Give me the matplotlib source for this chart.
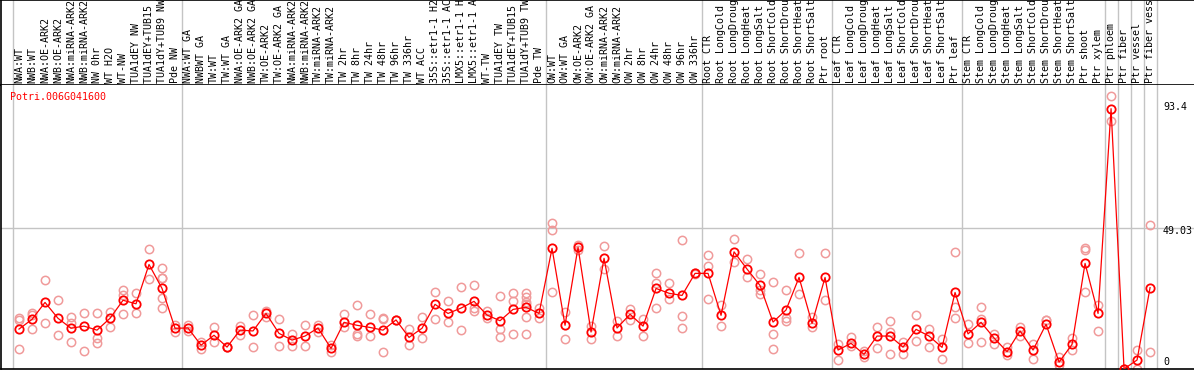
import matplotlib
matplotlib.use("Agg")
import matplotlib.pyplot as plt
import matplotlib.transforms as mtransforms
import numpy as np

# Data ------------------------------------------------------------------------

gene = "Potri.006G041600"

samples = [
    "NWA:WT", "NWB:WT", "NWA:OE-ARK2", "NWB:OE-ARK2", "NWA:miRNA-ARK2",
    "NWB:miRNA-ARK2", "NW 0hr", "WT H2O", "WT-NW", "TUA1dEY NW",
    "TUA1dEY+TUB15 NW", "TUA1dY+TUB9 NW", "Pde NW",
    "NWA:WT GA", "NWBWT GA", "TW:WT", "TW:WT GA", "NWA:OE-ARK2 GA",
    "NWB:OE-ARK2 GA", "TW:OE-ARK2", "TW:OE-ARK2 GA", "NWA:miRNA-ARK2",
    "NWB:miRNA-ARK2", "TW:miRNA-ARK2", "TW:miRNA-ARK2", "TW 2hr", "TW 8hr",
    "TW 24hr", "TW 48hr", "TW 96hr", "TW 336hr", "WT ACC", "35S::etr1-1 H2O",
    "35S::etr1-1 ACC", "LMX5::etr1-1 H2O", "LMX5::etr1-1 ACC", "WT-TW",
    "TUA1dEY TW", "TUA1dEY+TUB15 TW", "TUA1dY+TUB9 TW", "Pde TW",
    "OW:WT", "OW:WT GA", "OW:OE-ARK2", "OW:OE-ARK2 GA", "OW:miRNA-ARK2",
    "OW:miRNA-ARK2", "OW 2hr", "OW 8hr", "OW 24hr", "OW 48hr", "OW 96hr",
    "OW 336hr",
    "Root CTR", "Root LongCold", "Root LongDrought", "Root LongHeat",
    "Root LongSalt", "Root ShortCold", "Root ShortDrought", "Root ShortHeat",
    "Root ShortSalt", "Ptr root",
    "Leaf CTR", "Leaf LongCold", "Leaf LongDrought", "Leaf LongHeat",
    "Leaf LongSalt", "Leaf ShortCold", "Leaf ShortDrought", "Leaf ShortHeat",
    "Leaf ShortSalt", "Ptr leaf",
    "Stem CTR", "Stem LongCold", "Stem LongDrought", "Stem LongHeat",
    "Stem LongSalt", "Stem ShortCold", "Stem ShortDrought", "Stem ShortHeat",
    "Stem ShortSalt", "Ptr shoot", "Ptr xylem",
    "Ptr phloem", "Ptr fiber", "Ptr vessel", "Ptr fiber vessel",
]

group_sizes = [13, 28, 12, 10, 10, 11, 1, 1, 1, 1]

means = [
    11.5, 15.1, 21.4, 15.5, 11.8, 12.6, 11.1, 15.5, 22.2, 20.9, 35.5, 26.6, 11.8,
    11.9, 5.5, 9.2, 4.8, 11.1, 10.8, 17.3, 9.9, 7.4, 8.9, 11.9, 4.3, 14.0, 12.9,
    12.1, 11.1, 14.9, 8.4, 11.8, 20.7, 17.3, 19.3, 21.8, 16.7, 14.6, 18.8, 19.6,
    17.3,
    41.5, 12.9, 41.9, 10.4, 37.8, 11.9, 17.0, 12.6, 26.6, 24.8, 24.0, 32.2,
    32.2, 16.6, 40.2, 33.8, 27.7, 14.1, 18.6, 30.7, 13.6, 30.7,
    3.7, 6.2, 2.1, 8.9, 8.9, 4.8, 11.4, 8.9, 4.7, 25.1,
    9.7, 14.0, 8.2, 3.1, 10.8, 3.7, 13.3, -0.8, 5.8, 35.9, 17.3,
    93.4, -3.3, 0.0, 26.9,
]

replicates = [
    [15.5, 14.7, 4.0], [17.5, 16.7, 11.5], [29.6, 13.6], [22.3, 9.3],
    [16.0, 13.9, 6.7], [17.3, 3.3], [17.3, 8.1, 6.4], [17.9, 12.1],
    [26.0, 24.1, 17.0], [24.8, 17.3], [41.2, 30.1],
    [34.2, 30.6, 30.3, 22.9, 19.2], [13.0, 10.3],
    [13.0, 10.8], [6.8, 4.2], [12.1, 6.8], [4.8, 4.8], [12.6, 9.2], [16.6, 4.8],
    [18.3, 15.9], [15.1, 5.2], [9.7, 5.2], [12.9, 5.2], [13.1, 10.4],
    [5.6, 3.1], [17.0, 12.4], [20.3, 9.7, 8.9], [17.0, 8.9], [15.6, 15.1, 2.9],
    [14.9, 14.9], [11.4, 5.5], [15.9, 8.1], [25.1, 15.1], [21.8, 14.0],
    [27.0, 11.1], [27.9, 19.2, 18.3], [18.3, 15.5], [23.7, 11.4, 8.4],
    [24.8, 21.8, 9.7], [24.8, 23.5, 21.7, 20.8, 15.9, 9.5], [19.2, 15.7],
    [51.1, 48.2, 25.3], [17.9, 7.7], [42.7, 40.9], [12.6, 7.7], [42.3, 33.7],
    [14.5, 8.9], [18.9, 14.9], [15.2, 8.9], [32.3, 28.6, 19.2], [28.5, 22.5],
    [44.5, 16.3, 11.8], [32.4, 32.0],
    [39.0, 34.9, 22.5], [20.4, 12.6], [44.8, 36.3], [37.4, 30.9],
    [31.9, 26.0, 24.4], [28.9, 9.5, 4.1], [26.0, 15.5, 14.6], [39.6, 24.4],
    [15.9, 12.4], [39.6, 22.3],
    [5.9, 0.0], [8.4, 5.2], [3.5, 1.2], [12.4, 4.3], [14.5, 10.5, 2.1],
    [6.7, 2.1], [16.6, 7.1], [11.4, 4.7], [7.7, 0.3], [40.0, 19.6, 15.5],
    [13.4, 6.2], [19.6, 15.1, 6.6], [9.7, 5.9], [4.9, 1.9], [12.1, 9.0],
    [5.8, 0.3], [14.9, 14.9], [1.0, -1.9], [8.1, 3.7], [41.7, 40.7, 25.1],
    [20.4, 10.8],
    [98.06, 88.8], [-3.3, -3.3], [3.7, -3.3], [50.1, 3.1],
]

# Figure ----------------------------------------------------------------------

W, H = 1194, 370
fig = plt.figure(figsize=(W / 100, H / 100), dpi=100)
ax_lab = fig.add_axes([1 / W, 285 / H, 1193 / W, 85 / H])
ax = fig.add_axes([1 / W, 1 / H, 1193 / W, 284 / H])

n = len(samples)
x = np.arange(n)
xlim = (-1.385, 90.38)
top_val = max(max(r) for r in replicates)
half_val = top_val / 2
ylim = (-3.34, 102.2)

mono = "DejaVu Sans Mono"
fs = 7.2
red = "#ff0000"
pink = "#f09a9a"
grid = "#c4c4c4"

# group separators
bounds = np.concatenate([[0], np.cumsum(group_sizes)]) - 0.5
for b in bounds:
    ax.axvline(b, color=grid, lw=1.0, zorder=0)
    ax_lab.axvline(b, color=grid, lw=1.0, zorder=0)
ax.axhline(half_val, color=grid, lw=1.0, zorder=0)

# replicate points
for xi, reps in zip(x, replicates):
    ax.plot([xi] * len(reps), reps, 'o', ms=6, mfc='none', mec=pink,
            mew=1.1, zorder=2)

# mean line
ax.plot(x, means, '-', color=red, lw=0.9, zorder=3)
ax.plot(x, means, 'o', ms=6, mfc='none', mec=red, mew=1.3, zorder=4)

ax.set_xlim(*xlim)
ax.set_ylim(*ylim)
ax.set_xticks([])
ax.set_yticks([])
for s in ['top', 'right']:
    ax.spines[s].set_visible(False)
for s in ['left', 'bottom']:
    ax.spines[s].set_color('black')
    ax.spines[s].set_linewidth(1.2)

ax.text(9 / 1193, 0.958, gene, transform=ax.transAxes, color=red,
        family=mono, fontsize=fs, va='center', ha='left')

# right-hand value labels
for v, lab, dy in [(max(means), "93.4", 2), (half_val, "%.2f" % half_val, -3),
                   (0, "0", -2)]:
    off = mtransforms.offset_copy(ax.transData, fig=fig, x=0, y=dy,
                                  units='dots')
    ax.text(n, v, lab, transform=off, family=mono, fontsize=fs,
            va='center', ha='left', clip_on=False)

# sample labels
ax_lab.set_xlim(*xlim)
ax_lab.set_ylim(0, 1)
ax_lab.set_xticks([])
ax_lab.set_yticks([])
ax_lab.spines['right'].set_visible(False)
for s in ['left', 'top', 'bottom']:
    ax_lab.spines[s].set_color('black')
    ax_lab.spines[s].set_linewidth(1.2)
for xi, lab in zip(x, samples):
    ax_lab.text(xi, 0.025, lab, rotation=90, ha='center', va='bottom',
                family=mono, fontsize=fs, clip_on=True)

fig.savefig("out.png", dpi=100)
